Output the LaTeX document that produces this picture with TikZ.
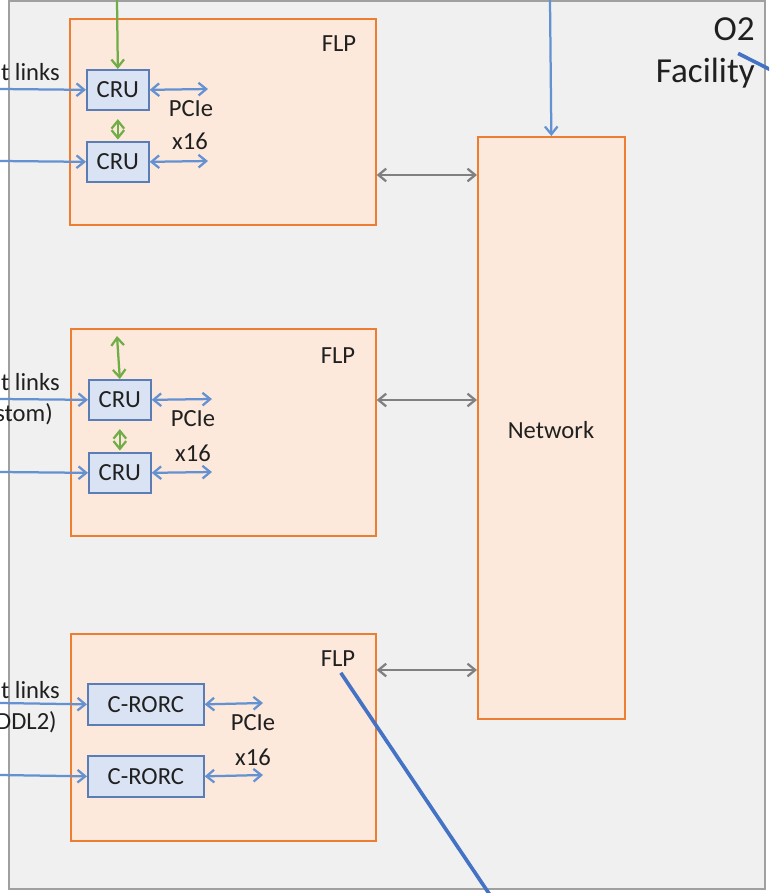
\documentclass[tikz,border=0pt]{standalone}
\usepackage{fontspec}
\setmainfont{Carlito}
\usepackage{tikz}
\usetikzlibrary{arrows.meta,positioning,calc}
\definecolor{facBg}{RGB}{240,240,240}
\definecolor{facLine}{RGB}{160,160,160}
\definecolor{flpFill}{RGB}{252,233,219}
\definecolor{flpLine}{RGB}{237,125,49}
\definecolor{cardFill}{RGB}{218,227,243}
\definecolor{cardLine}{RGB}{91,125,181}
\definecolor{linkBlue}{RGB}{100,145,210}
\definecolor{callBlue}{RGB}{68,114,196}
\definecolor{ctrlGreen}{RGB}{112,173,71}
\definecolor{netGray}{RGB}{128,128,128}
\definecolor{txt}{RGB}{32,32,32}
\def\pxu{0.025cm}

\begin{document}
\begin{tikzpicture}[x=0.025cm, y=-0.025cm, >={Straight Barb[length=5.5pt,width=9pt]},
    flpbox/.style={draw=flpLine, fill=flpFill, line width=1.2pt, anchor=north west, inner sep=0},
    card/.style={draw=cardLine, fill=cardFill, line width=1.2pt, anchor=north west, inner sep=0, font=\fontsize{17.5}{20}\selectfont, text=txt},
    lbl/.style={inner sep=0, font=\fontsize{17.5}{20}\selectfont, text=txt},
    blink/.style={linkBlue, line width=1.6pt},
    glink/.style={ctrlGreen, line width=1.6pt},
    nlink/.style={netGray, line width=1.6pt},
    callout/.style={callBlue, line width=2.6pt}]
  \useasboundingbox (0,0) rectangle (769,893);
  \clip (0,0) rectangle (769,893);
  % facility
  \draw[facLine, fill=facBg, line width=1.2pt] (9,1) rectangle (765,889);
  \node[lbl, anchor=east, font=\fontsize{25}{30}\selectfont] (o2) at (755,29) {O2};
  \node[lbl, anchor=east, font=\fontsize{25}{30}\selectfont] (fac) at (755,73) {Facility};

  % FLP boxes
  \node[flpbox, minimum width=306*\pxu, minimum height=206*\pxu] (flp1) at (69,18) {};
  \node[flpbox, minimum width=305*\pxu, minimum height=207*\pxu] (flp2) at (70,328) {};
  \node[flpbox, minimum width=305*\pxu, minimum height=207*\pxu] (flp3) at (70,633) {};
  \node[lbl] (lab1) at (339,44) {FLP};
  \node[lbl] (lab2) at (338,356) {FLP};
  \node[lbl] (lab3) at (338,659) {FLP};

  % network
  \node[flpbox, minimum width=147*\pxu, minimum height=582*\pxu] (net) at (477,136) {};
  \node[lbl] (netlab) at (551,430) {Network};

  % readout cards
  \node[card, minimum width=62*\pxu, minimum height=40*\pxu] (cru1a) at (86,69) {};
  \node[card, minimum width=62*\pxu, minimum height=40*\pxu] (cru1b) at (86,141) {};
  \node[card, minimum width=62*\pxu, minimum height=40*\pxu] (cru2a) at (88,379) {};
  \node[card, minimum width=62*\pxu, minimum height=40*\pxu] (cru2b) at (88,452) {};
  \node[card, minimum width=116*\pxu, minimum height=41*\pxu] (rorc1) at (87,683) {};
  \node[card, minimum width=116*\pxu, minimum height=41*\pxu] (rorc2) at (87,755) {};
  \node[lbl] at (cru1a) {CRU};
  \node[lbl] at (cru1b) {CRU};
  \node[lbl] at (cru2a) {CRU};
  \node[lbl] at (cru2b) {CRU};
  \node[lbl] at (rorc1) {C-RORC};
  \node[lbl] at (rorc2) {C-RORC};

  % input links
  \node[lbl, anchor=east] (in1) at (60,72) {t links};
  \node[lbl, anchor=east] (in2) at (60,382) {t links};
  \node[lbl, anchor=east] (in2b) at (53,414) {stom)};
  \node[lbl, anchor=east] (in3) at (60,690) {t links};
  \node[lbl, anchor=east] (in3b) at (57,722) {DDL2)};
  \coordinate (l1a) at (0,89);
  \coordinate (l1b) at (0,161);
  \coordinate (l2a) at (0,399);
  \coordinate (l2b) at (0,472);
  \coordinate (l3a) at (0,703);
  \coordinate (l3b) at (0,775);
  \draw[blink,->] (l1a) -- (cru1a.west);
  \draw[blink,->] (l1b) -- (cru1b.west);
  \draw[blink,->] (l2a) -- (cru2a.west);
  \draw[blink,->] (l2b) -- (cru2b.west);
  \draw[blink,->] (l3a) -- (rorc1.west);
  \draw[blink,->] (l3b) -- (rorc2.west);

  % PCIe
  \coordinate (p1a) at (208,89);
  \coordinate (p1b) at (208,161);
  \coordinate (p2a) at (212,399);
  \coordinate (p2b) at (212,472);
  \coordinate (p3a) at (263,703);
  \coordinate (p3b) at (263,775);
  \draw[blink,<->] (cru1a.east) -- (p1a);
  \draw[blink,<->] (cru1b.east) -- (p1b);
  \draw[blink,<->] (cru2a.east) -- (p2a);
  \draw[blink,<->] (cru2b.east) -- (p2b);
  \draw[blink,<->] (rorc1.east) -- (p3a);
  \draw[blink,<->] (rorc2.east) -- (p3b);
  \node[lbl] (pcie1) at (191,109) {PCIe};
  \node[lbl] (lanes1) at (190,141) {x16};
  \node[lbl] (pcie2) at (193,419) {PCIe};
  \node[lbl] (lanes2) at (193,453) {x16};
  \node[lbl] (pcie3) at (253,723) {PCIe};
  \node[lbl] (lanes3) at (253,757) {x16};

  % control (green)
  \coordinate (g1) at (117,0);
  \coordinate (g2) at (117,336);
  \draw[glink,->] (g1) -- (cru1a.north);
  \draw[glink,<->, shorten <=6pt, shorten >=1pt] (cru1a.south) -- (cru1b.north);
  \draw[glink,<->] (g2) -- (cru2a.north);
  \draw[glink,<->, shorten <=6pt, shorten >=1pt] (cru2a.south) -- (cru2b.north);

  % FLP to network
  \draw[nlink,<->] (flp1.east |- 0,175) -- (net.west |- 0,175);
  \draw[nlink,<->] (flp2.east |- 0,400) -- (net.west |- 0,400);
  \draw[nlink,<->] (flp3.east |- 0,670) -- (net.west |- 0,670);
  \coordinate (ntop) at (550,0);
  \draw[blink,->] (ntop) -- (net.north);

  % callouts
  \coordinate (cut3) at (490,895);
  \coordinate (cutf) at (775,72);
  \draw[callout] ([xshift=2pt,yshift=-4pt]lab3.south) -- (cut3);
  \draw[callout] ([xshift=-12pt,yshift=-9pt]o2.south east) -- (cutf);
\end{tikzpicture}
\end{document}
